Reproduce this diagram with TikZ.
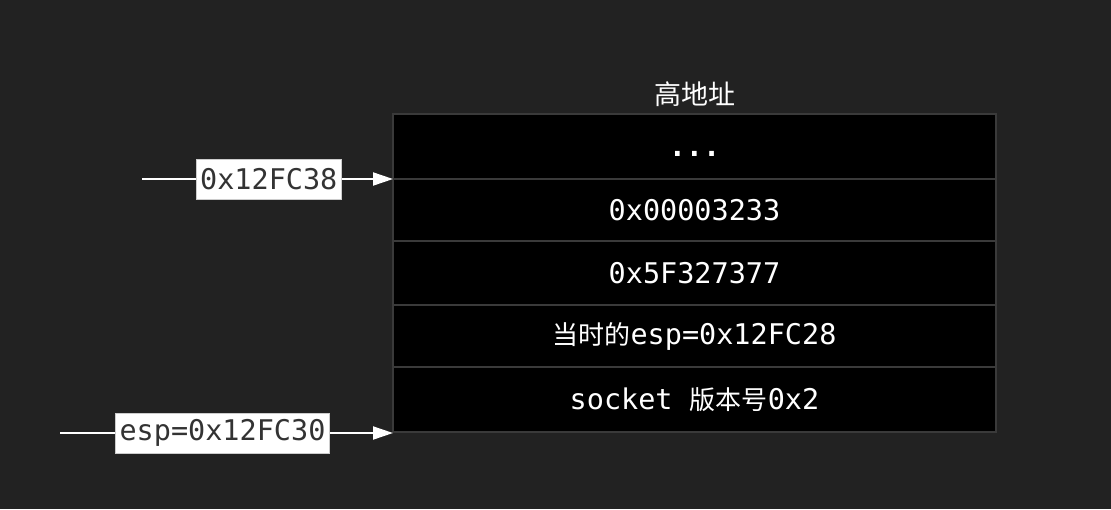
\documentclass[tikz,border=0pt]{standalone}
\usepackage{fontspec}
\setmonofont{DejaVu Sans Mono}
\newfontfamily\cjk{Noto Sans CJK SC}
\usetikzlibrary{arrows.meta}
\definecolor{bg}{HTML}{222222}
\definecolor{cellborder}{HTML}{3A3A3A}
\definecolor{lbltext}{HTML}{333333}
\newcommand{\zh}[1]{{\fontsize{26}{30}\selectfont\cjk #1}}
\tikzset{
  cell/.style={draw=cellborder, line width=2pt, fill=black, minimum width=603pt, anchor=north west, inner sep=0pt, outer sep=0pt, text=white, font=\fontsize{28.5}{30}\selectfont\ttfamily},
  lbl/.style={draw=gray!40, line width=1pt, fill=white, text=lbltext, font=\fontsize{28.5}{30}\selectfont\ttfamily, minimum height=40pt, inner xsep=4pt, inner ysep=0pt},
  arr/.style={draw=white, line width=2pt, -{Triangle[length=20pt,width=13pt]}}
}
\begin{document}
\begin{tikzpicture}[x=1pt,y=-1pt]
\fill[bg] (0,0) rectangle (1111,509);
\useasboundingbox (0,0) rectangle (1111,509);
\node[text=white, font=\fontsize{27}{30}\selectfont\cjk] (title) at (695,94) {高地址};
\node[cell, minimum height=65pt] (r1) at (393,114) {\textbf{\vphantom{0}...}};
\node[cell, minimum height=62pt] (r2) at (r1.south west) {0x00003233};
\node[cell, minimum height=64pt] (r3) at (r2.south west) {0x5F327377};
\node[cell, minimum height=62pt] (r4) at (r3.south west) {\zh{当时的}esp=0x12FC28};
\node[cell, minimum height=65pt] (r5) at (r4.south west) {socket \zh{版本号}0x2};
\coordinate (s1) at (142,179);
\coordinate (s2) at (60,433);
\draw[arr] (s1) -- (s1 -| r1.south west) node[lbl, pos=0.505] (l1) {0x12FC38};
\draw[arr] (s2) -- (s2 -| r5.south west) node[lbl, pos=0.488] (l2) {esp=0x12FC30};
\end{tikzpicture}
\end{document}
